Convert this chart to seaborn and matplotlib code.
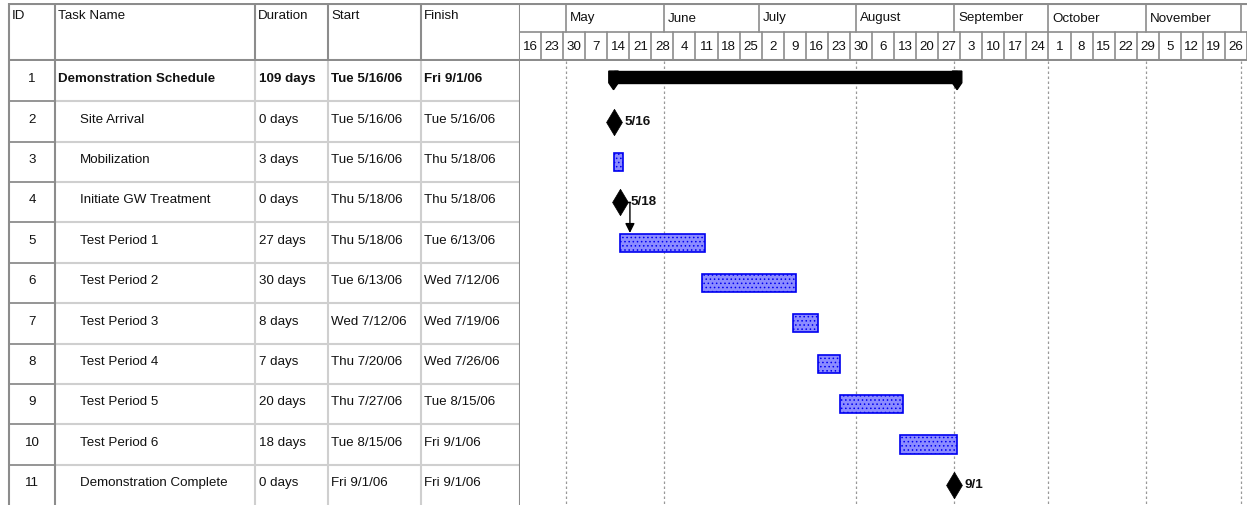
import pandas as pd
import matplotlib.pyplot as plt
import matplotlib.patches as mpatches
import seaborn as sns

# Task table
ids = list(range(1, 12))
task_names = ['Demonstration Schedule', 'Site Arrival', 'Mobilization', 'Initiate GW Treatment',
              'Test Period 1', 'Test Period 2', 'Test Period 3', 'Test Period 4',
              'Test Period 5', 'Test Period 6', 'Demonstration Complete']
durations = ['109 days', '0 days', '3 days', '0 days', '27 days', '30 days',
             '8 days', '7 days', '20 days', '18 days', '0 days']
start_labels = ['Tue 5/16/06', 'Tue 5/16/06', 'Tue 5/16/06', 'Thu 5/18/06', 'Thu 5/18/06',
                'Tue 6/13/06', 'Wed 7/12/06', 'Thu 7/20/06', 'Thu 7/27/06', 'Tue 8/15/06',
                'Fri 9/1/06']
finish_labels = ['Fri 9/1/06', 'Tue 5/16/06', 'Thu 5/18/06', 'Thu 5/18/06', 'Tue 6/13/06',
                 'Wed 7/12/06', 'Wed 7/19/06', 'Wed 7/26/06', 'Tue 8/15/06', 'Fri 9/1/06',
                 'Fri 9/1/06']
task_kinds = ['summary', 'milestone', 'task', 'milestone', 'task', 'task',
              'task', 'task', 'task', 'task', 'milestone']
milestone_labels = ['', '5/16', '', '5/18', '', '', '', '', '', '', '9/1']

# Timescale
timeline_start = '2006-04-16'
timeline_end = '2006-12-03'
month_names = ['May', 'June', 'July', 'August', 'September', 'October', 'November']
month_starts = ['2006-05-01', '2006-06-01', '2006-07-01', '2006-08-01',
                '2006-09-01', '2006-10-01', '2006-11-01', '2006-12-01']
grid_months = ['2006-05-01', '2006-06-01', '2006-08-01', '2006-09-01',
               '2006-10-01', '2006-11-01', '2006-12-01']

t0 = pd.Timestamp(timeline_start)
span = (pd.Timestamp(timeline_end) - t0).days


def to_day(s):
    return (pd.Timestamp(s) - t0).days


def label_day(lbl):
    return (pd.to_datetime(lbl.split()[1], format='%m/%d/%y') - t0).days


df = pd.DataFrame({'id': ids, 'name': task_names, 'duration': durations,
                   'start_lbl': start_labels, 'finish_lbl': finish_labels,
                   'kind': task_kinds, 'ms_label': milestone_labels})
df['start'] = df['start_lbl'].map(label_day)
df['end'] = df['finish_lbl'].map(label_day) + 1

sns.set_theme(style='white')
plt.rcParams['font.family'] = ['Liberation Sans', 'DejaVu Sans']
plt.rcParams['hatch.linewidth'] = 0.6
FS = 9.6
TXT = '#111111'
DARK = '#8c8c8c'
LIGHT = '#cfcfcf'

W, H = 1247, 506
fig = plt.figure(figsize=(W / 100, H / 100), dpi=100)


def box(l, t, r, b):
    return [l / W, 1 - b / H, (r - l) / W, (b - t) / H]


col_edges = [9, 55, 255, 328, 421, 520]
n = len(df)

# ---- table header
axh = fig.add_axes(box(0, 4, 520, 62))
axh.set_xlim(0, 520)
axh.set_ylim(62, 4)
axh.axis('off')
for x, lbl in zip(col_edges[:-1], ['ID', 'Task Name', 'Duration', 'Start', 'Finish']):
    axh.text(x + 3, 16, lbl, ha='left', va='center', fontsize=FS, color=TXT)
for x in col_edges:
    axh.plot([x, x], [4, 62], color=DARK, lw=1.5)
axh.plot([9, 520], [4.5, 4.5], color=DARK, lw=1.5)
axh.plot([9, 520], [61, 61], color=DARK, lw=2.2)

# ---- table body
axt = fig.add_axes(box(0, 62, 520, 506))
axt.set_xlim(0, 520)
axt.set_ylim(n + 0.5, 0.5)
axt.axis('off')
for i, r in df.iterrows():
    y = r['id'] - 0.07
    bold = 'bold' if r['kind'] == 'summary' else 'normal'
    axt.text(32, y, str(r['id']), ha='center', va='center', fontsize=FS, color=TXT)
    name_x = 58 if r['kind'] == 'summary' else 80
    axt.text(name_x, y, r['name'], ha='left', va='center', fontsize=FS, color=TXT, fontweight=bold)
    axt.text(259, y, r['duration'], ha='left', va='center', fontsize=FS, color=TXT, fontweight=bold)
    axt.text(331, y, r['start_lbl'], ha='left', va='center', fontsize=FS, color=TXT, fontweight=bold)
    axt.text(424, y, r['finish_lbl'], ha='left', va='center', fontsize=FS, color=TXT, fontweight=bold)
for k in range(1, n):
    axt.plot([9, 55], [k + 0.5, k + 0.5], color=DARK, lw=1.3)
    axt.plot([55, 520], [k + 0.5, k + 0.5], color=LIGHT, lw=1.5)
for x in col_edges:
    c = DARK if x in (9, 55, 520) else LIGHT
    axt.plot([x, x], [0.5, n + 0.5], color=c, lw=1.5)

# ---- timescale header
axs = fig.add_axes(box(519, 4, W, 62))
axs.set_xlim(0, span)
axs.set_ylim(0, 2)
axs.axis('off')
axs.plot([0, span], [1.98, 1.98], color=DARK, lw=1.5)
axs.plot([0, span], [1.0, 1.0], color=DARK, lw=1.2)
axs.plot([0, span], [0.03, 0.03], color=DARK, lw=2.2)
for ms in month_starts:
    d = to_day(ms)
    axs.plot([d, d], [1, 2], color=DARK, lw=1.2)
for name, ms in zip(month_names, month_starts):
    axs.text(to_day(ms) + 1.3, 1.5, name, ha='left', va='center', fontsize=FS, color=TXT)
for d in range(0, span, 7):
    wk = t0 + pd.Timedelta(days=d)
    axs.plot([d + 7, d + 7], [0, 1], color=DARK, lw=1.2)
    axs.text(d + 3.5, 0.5, str(wk.day), ha='center', va='center', fontsize=FS, color=TXT)

# ---- gantt area
axg = fig.add_axes(box(519, 62, W, 506))
for gm in grid_months:
    d = to_day(gm)
    axg.plot([d, d], [0.5, n + 0.5], color='#999999', lw=0.9, ls=(0, (2, 2)))

tasks = df[df['kind'] == 'task']
axg.barh(tasks['id'], tasks['end'] - tasks['start'], left=tasks['start'], height=0.45,
         color='#8c8cff', edgecolor='#0000f0', linewidth=1.2, hatch='....', zorder=3)

# summary bar with end caps
for _, r in df[df['kind'] == 'summary'].iterrows():
    s, e, y = r['start'], r['end'], r['id']
    top, bot, tip, cap = y - 0.25, y + 0.04, y + 0.21, 1.5
    axg.add_patch(mpatches.Rectangle((s, top), e - s, bot - top, color='black', zorder=3))
    for c in (s, e):
        axg.add_patch(mpatches.Polygon([(c - cap, top), (c + cap, top), (c + cap, bot),
                                        (c, tip), (c - cap, bot)], closed=True,
                                       color='black', zorder=3))

ms_df = df[df['kind'] == 'milestone'].copy()
ms_df['day'] = ms_df['start']
sns.scatterplot(data=ms_df, x='day', y='id', marker='d', s=180, color='black',
                edgecolor='black', linewidth=0.5, ax=axg, legend=False, zorder=4)
axg.axis('off')
axg.set_xlim(0, span)
axg.set_ylim(n + 0.5, 0.5)
for _, r in ms_df.iterrows():
    axg.text(r['day'] + 3.5, r['id'] - 0.02, r['ms_label'], ha='left', va='center',
             fontsize=FS, fontweight='bold', color=TXT)

# dependency link: GW treatment milestone -> Test Period 1
src = df[df['name'] == 'Initiate GW Treatment'].iloc[0]
dst = df[df['name'] == 'Test Period 1'].iloc[0]
lx = dst['start'] + 3.2
axg.plot([src['start'] + 1, lx], [src['id'], src['id']], color='black', lw=1, zorder=2)
axg.annotate('', xy=(lx, dst['id'] - 0.24), xytext=(lx, src['id']),
             arrowprops=dict(arrowstyle='-|>', color='black', lw=1, mutation_scale=14,
                             shrinkA=0, shrinkB=0), zorder=2)

fig.savefig('out.png', dpi=100)
